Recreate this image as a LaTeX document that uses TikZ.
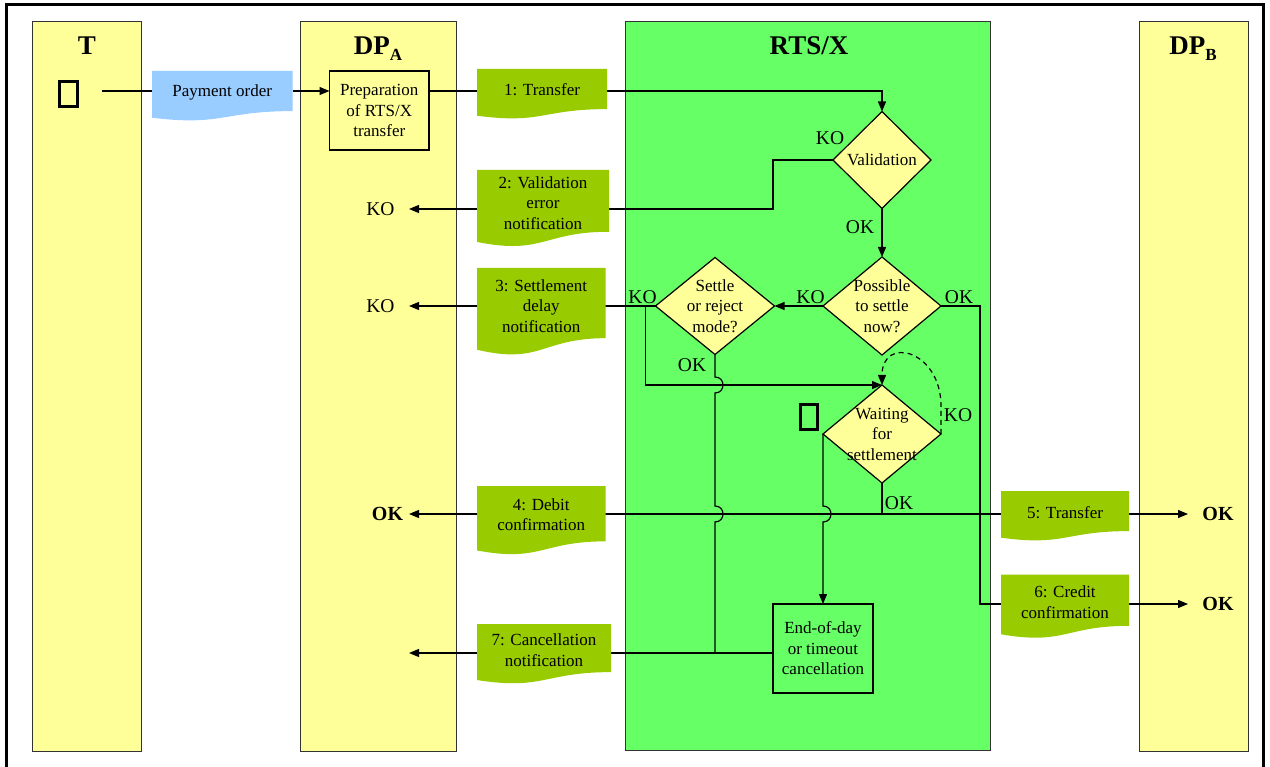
\documentclass[tikz,border=0pt]{standalone}
\usepackage{fontspec}
\setmainfont{Liberation Serif}
\usetikzlibrary{arrows.meta,shapes.geometric,calc}
\pgfdeclarelayer{lanes}
\pgfdeclarelayer{lines}
\pgfdeclarelayer{docs}
\pgfsetlayers{lanes,lines,docs,main}
\definecolor{laneyellow}{HTML}{FFFF99}
\definecolor{rtsgreen}{HTML}{66FF66}
\definecolor{docgreen}{HTML}{99CC00}
\definecolor{docblue}{HTML}{99CCFF}
% left, top, width, height, colour
\newcommand\docshape[5]{%
  \fill[#5] (#1,#2) -- (#1+#3,#2) -- (#1+#3,#2+0.802*#4)
    .. controls (#1+#3/2,#2+0.802*#4) and (#1+#3/2,#2+1.1075*#4) .. (#1,#2+0.934*#4) -- cycle;}
\tikzset{
  txt/.style={font=\fontsize{17}{20.5}\selectfont, align=center, inner sep=0pt},
  doctxt/.style={txt, minimum width=#1},
  lbl/.style={font=\fontsize{19.5}{20}\selectfont, inner sep=0pt},
  blbl/.style={font=\fontsize{20}{20}\selectfont\bfseries, inner sep=0pt},
  lanetitle/.style={font=\fontsize{27}{27}\selectfont\bfseries, inner sep=0pt, anchor=base},
  lane/.style={draw=black!80, line width=1pt},
  dia/.style={diamond, draw=black, fill=laneyellow, line width=1.2pt, inner sep=0pt, outer sep=0pt},
  procbox/.style={draw=black, line width=1.2pt, inner sep=0pt, outer sep=0pt, txt},
  clockbox/.style={draw=black, line width=2.6pt, inner sep=0pt, outer sep=0pt},
  conn/.style={line width=1.2pt},
  arr/.style={conn, -{Triangle[length=10pt,width=8pt]}},
}
\begin{document}
\begin{tikzpicture}[x=1pt,y=-1pt]
\useasboundingbox (0,0) rectangle (1270,767);
% lanes
\begin{pgfonlayer}{lanes}
  \fill[white] (0,0) rectangle (1270,767);
  \draw[lane, fill=laneyellow] (32.5,21.5) rectangle (141.5,751.5);
  \draw[lane, fill=laneyellow] (300,21.5) rectangle (456,751.5);
  \draw[lane, fill=rtsgreen] (625.5,21.5) rectangle (990.5,750.5);
  \draw[lane, fill=laneyellow] (1139,21.5) rectangle (1248,751.5);
  \draw[line width=3pt] (6.7,767) -- (6.7,5) -- (1263.5,5) -- (1263.5,767);
\end{pgfonlayer}
% titles
\node[lanetitle] (tT) at (87,55) {T};
\node[lanetitle] (tA) at (378,55) {DP\raisebox{-6pt}{\fontsize{17}{17}\selectfont\bfseries A}};
\node[lanetitle] (tR) at (809,55) {RTS/X};
\node[lanetitle] (tB) at (1193,55) {DP\raisebox{-6pt}{\fontsize{17}{17}\selectfont\bfseries B}};
% clock glyph boxes
\node[clockbox, minimum width=18pt, minimum height=25.5pt] (tclock) at (68.5,94) {};
\node[clockbox, minimum width=17pt, minimum height=25pt] (wclock) at (809,417) {};
% documents
\begin{pgfonlayer}{docs}
  \docshape{152}{71}{140.5}{50}{docblue}
  \docshape{477}{69}{130}{50}{docgreen}
  \docshape{477}{170}{132}{77}{docgreen}
  \docshape{477}{268}{128.5}{87.5}{docgreen}
  \docshape{477}{486}{128.5}{69}{docgreen}
  \docshape{477}{624}{134}{60}{docgreen}
  \docshape{1001}{491}{128}{50}{docgreen}
  \docshape{1001}{574.5}{128}{64}{docgreen}
\end{pgfonlayer}
\node[doctxt=140.5pt] (po) at (222.25,92) {Payment order};
\node[doctxt=130pt] (d1) at (542,90) {1: Transfer};
\node[doctxt=132pt] (d2) at (543,203) {2: Validation\\error\\notification};
\node[doctxt=128.5pt] (d3) at (541.25,306) {3: Settlement\\delay\\notification};
\node[doctxt=128.5pt] (d4) at (541.25,514.5) {4: Debit\\confirmation};
\node[doctxt=134pt] (d7) at (544,650) {7: Cancellation\\notification};
\node[doctxt=128pt] (d5) at (1065,512.7) {5: Transfer};
\node[doctxt=128pt] (d6) at (1065,602) {6: Credit\\confirmation};
% boxes
\node[procbox, fill=laneyellow, minimum width=99.5pt, minimum height=79pt] (prep) at (379.25,110.5) {Preparation\\of RTS/X\\transfer};
\node[procbox, minimum width=100pt, minimum height=89pt] (eod) at (823,648.5) {End-of-day\\or timeout\\cancellation};
% diamonds
\node[dia, minimum width=98pt, minimum height=97pt] (val) at (882,160) {};
\node[txt] at (val) {Validation};
\node[dia, minimum width=118pt, minimum height=98pt] (pos) at (882,306) {};
\node[txt] at (pos) {Possible\\to settle\\now?};
\node[dia, minimum width=119pt, minimum height=97pt] (set) at (715,306) {};
\node[txt] at (set) {Settle\\or reject\\mode?};
\node[dia, minimum width=118pt, minimum height=98pt] (wait) at (882,434) {};
\node[txt] at (wait) {Waiting\\for\\settlement};
% end points
\coordinate (tstart) at (102,91);
\coordinate (tipA2) at (409,209);
\coordinate (tipA3) at (409,306);
\coordinate (tipA4) at (409,514);
\coordinate (tipA7) at (409,653);
\coordinate (tipB5) at (1188,514);
\coordinate (tipB6) at (1188,604);
% labels
\node[lbl] (kv) at (830,138) {KO};
\node[lbl] (ov) at (860,227) {OK};
\node[lbl] (kp) at (810.5,297) {KO};
\node[lbl] (op) at (959,297) {OK};
\node[lbl] (ks) at (642.5,297) {KO};
\node[lbl] (os) at (692,365) {OK};
\node[lbl] (kw) at (958,415) {KO};
\node[lbl] (ow) at (899,503) {OK};
\node[lbl] (ka2) at (380.5,209) {KO};
\node[lbl] (ka3) at (380.5,306) {KO};
\node[blbl] (oa4) at (387.5,514) {OK};
\node[blbl] (ob5) at (1218,514) {OK};
\node[blbl] (ob6) at (1218,604) {OK};
% connectors
\begin{pgfonlayer}{lines}
  \draw[conn] (tstart) -- (tstart -| po.west);
  \draw[arr] (tstart -| po.east) -- (tstart -| prep.west);
  \draw[arr] (tstart -| prep.east) -| (val.north);
  \draw[arr] (val.west) -- ++(-60,0) |- (tipA2);
  \draw[arr] (val.south) -- (pos.north);
  \draw[arr] (pos.west) -- (set.east);
  \draw[arr] (pos.east) -- ++(39,0) |- (tipB6);
  \draw[arr] (set.west) -- (tipA3);
  \draw[arr] ($(set.west)+(-10,0)$) |- (wait.north);
  \draw[conn] (set.south) -- (715,377) .. controls (725.7,377) and (725.7,393) .. (715,393)
     -- (715,506) .. controls (725.7,506) and (725.7,522) .. (715,522) -- (715,653);
  \draw[arr] (wait.west) -- (823,506) .. controls (833.7,506) and (833.7,522) .. (823,522) -- (eod.north);
  \draw[conn] (wait.south) -- (wait.south |- tipA4);
  \draw[arr] (d5.west |- tipA4) -- (tipA4);
  \draw[arr] (d5.east |- tipB5) -- (tipB5);
  \draw[arr] (eod.west |- tipA7) -- (tipA7);
  \draw[arr, dash pattern=on 5pt off 4pt] (wait.east) -- ++(0,-28) .. controls (941,350) and (882,335) .. (wait.north);
\end{pgfonlayer}
\end{tikzpicture}
\end{document}
